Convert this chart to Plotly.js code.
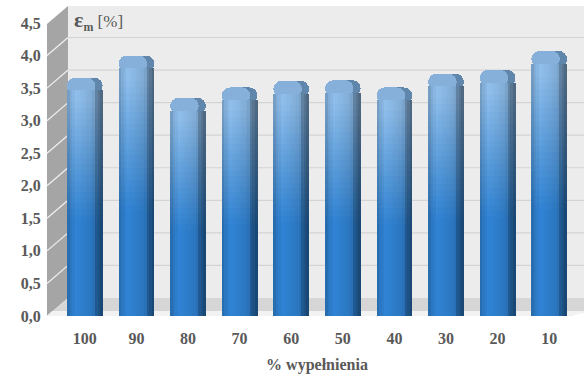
<!DOCTYPE html>
<html><head><meta charset="utf-8">
<script src="https://cdn.plot.ly/plotly-3.0.1.min.js"></script>
<style>html,body{margin:0;padding:0;background:#fff}#chart{width:584px;height:375px}
#chart svg text{font-family:'Liberation Serif' !important}</style>
</head><body>
<div id="chart"></div>
<script>
const categories = ['100','90','80','70','60','50','40','30','20','10'];
const strainValues = [3.66, 4.00, 3.35, 3.51, 3.61, 3.62, 3.51, 3.72, 3.78, 4.07];
const yTickValues = [0, 0.5, 1, 1.5, 2, 2.5, 3, 3.5, 4, 4.5];
const yTickLabels = ['0,0','0,5','1,0','1,5','2,0','2,5','3,0','3,5','4,0','4,5'];
const xTitle = '% wypełnienia';
const yLabel = '<b><span style="font-size:22px">ε</span><sub>m</sub></b> [%]';

const FONT = 'Liberation Serif';
const W = 584, H = 375, L = 59, R = 9, T = 23, B = 59;
const pw = W - L - R, ph = H - T - B;
const px = x => (x - L) / pw, py = y => (H - B - y) / ph;
const P = (x, y) => px(x).toFixed(4) + ',' + py(y).toFixed(4);

const NS = 14, NV = 40, barW = 0.69, capH = 0.2;
const hprof = [[0,0.82],[0.06,0.95],[0.25,1.08],[0.45,1.04],[0.7,0.97],[0.78,0.9],[0.82,0.74],[0.92,0.64],[1,0.56]];
function hf(u){for(let k=1;k<hprof.length;k++){if(u<=hprof[k][0]){const a=hprof[k-1],b=hprof[k];const t=(u-a[0])/(b[0]-a[0]);return a[1]+t*(b[1]-a[1]);}}return hprof[hprof.length-1][1];}
const cBot=[44,121,196], cMid=[82,144,203], cTop=[132,176,218];
function col(u,v){
  let c;
  if(v<0.42) c=cBot;
  else if(v<0.66){const t=(v-0.42)/0.24;c=cBot.map((b,k)=>b+(cMid[k]-b)*t);}
  else {const t=Math.min(1,(v-0.66)/0.3);c=cMid.map((b,k)=>b+(cTop[k]-b)*t);}
  const f=hf(u);
  return 'rgb('+c.map(x=>Math.min(255,Math.round(x*f))).join(',')+')';
}
const traces=[];
traces.push({type:'bar', x:categories, y:strainValues.map(()=>capH+0.05), base:strainValues.map(s=>s-capH-0.05),
  width:barW, offset:-barW/2, marker:{color:'rgb(96,134,172)', cornerradius:10, line:{width:0}}, hoverinfo:'skip', showlegend:false});
traces.push({type:'bar', x:categories, y:strainValues.map(()=>capH+0.05), base:strainValues.map(s=>s-capH-0.05),
  width:barW*0.8, offset:-barW/2, marker:{color:'rgb(134,176,218)', cornerradius:9, line:{width:0}}, hoverinfo:'skip', showlegend:false});
for(let i=0;i<NS;i++){
  const u=(i+0.5)/NS;
  for(let j=0;j<NV;j++){
    const v0=j/NV, v1=(j+1)/NV;
    traces.push({
      type:'bar', x:categories,
      y:strainValues.map(s=>(s-capH)*(v1-v0)*1.06),
      base:strainValues.map(s=>(s-capH)*v0),
      width:barW/NS*1.1, offset:-barW/2+i*barW/NS,
      marker:{color:col(u,(v0+v1)/2), line:{width:0}},
      hoverinfo:'skip', showlegend:false
    });
  }
}

const shapes=[];
shapes.push({type:'path', xref:'paper', yref:'paper', layer:'below', line:{width:0}, fillcolor:'#ececec',
  path:'M'+P(68,6)+' L'+P(584,6)+' L'+P(584,298)+' L'+P(68,298)+' Z'});
shapes.push({type:'path', xref:'paper', yref:'paper', layer:'below', line:{width:0}, fillcolor:'#a5a5a5',
  path:'M'+P(47,24)+' L'+P(68,6)+' L'+P(68,298)+' L'+P(47,316)+' Z'});
shapes.push({type:'path', xref:'paper', yref:'paper', layer:'below', line:{width:0}, fillcolor:'#d6d6d6',
  path:'M'+P(47,316)+' L'+P(68,298)+' L'+P(584,298)+' L'+P(584,312)+' L'+P(570,316)+' Z'});
shapes.push({type:'path', xref:'paper', yref:'paper', layer:'below', line:{width:0}, fillcolor:'#f2f2f2',
  path:'M'+P(47,316)+' L'+P(52,311)+' L'+P(584,311)+' L'+P(584,313)+' L'+P(570,316)+' Z'});
const shift = 18/65;
yTickValues.forEach(v=>{
  if(v===0||v===4.5) return;
  shapes.push({type:'line', xref:'paper', yref:'y', layer:'below', x0:px(68), x1:px(584), y0:v+shift, y1:v+shift, line:{color:'#d4d4d4', width:1.2}});
  shapes.push({type:'line', xref:'paper', yref:'y', layer:'below', x0:px(47), x1:px(68), y0:v, y1:v+shift, line:{color:'#f0f0f0', width:1.2}});
});

const layout={
  width:W, height:H, margin:{l:L,r:R,t:T,b:B},
  paper_bgcolor:'#ffffff', plot_bgcolor:'rgba(0,0,0,0)',
  barmode:'overlay', bargap:0, separators:', ',
  font:{family:FONT, color:'#595959'},
  xaxis:{type:'category', range:[-0.5,9.5], showgrid:false, zeroline:false, showline:false,
    ticks:'outside', ticklen:8, tickcolor:'rgba(0,0,0,0)',
    tickfont:{size:16, family:FONT, weight:'bold', color:'#595959'},
    title:{text:'<b>'+xTitle+'</b>', font:{size:16, family:FONT, color:'#595959'}, standoff:12}},
  yaxis:{range:[0,4.5], tickvals:yTickValues, ticktext:yTickLabels, showgrid:false, zeroline:false, showline:false,
    ticks:'outside', ticklen:14, tickcolor:'rgba(0,0,0,0)',
    tickfont:{size:16, family:FONT, weight:'bold', color:'#595959'}},
  shapes:shapes,
  annotations:[{xref:'paper', yref:'paper', x:px(72), y:py(21), xanchor:'left', yanchor:'middle', showarrow:false,
    text:yLabel, font:{size:17, color:'#595959', family:FONT}}]
};
Plotly.newPlot('chart', traces, layout, {staticPlot:true, displayModeBar:false});
</script></body></html>
